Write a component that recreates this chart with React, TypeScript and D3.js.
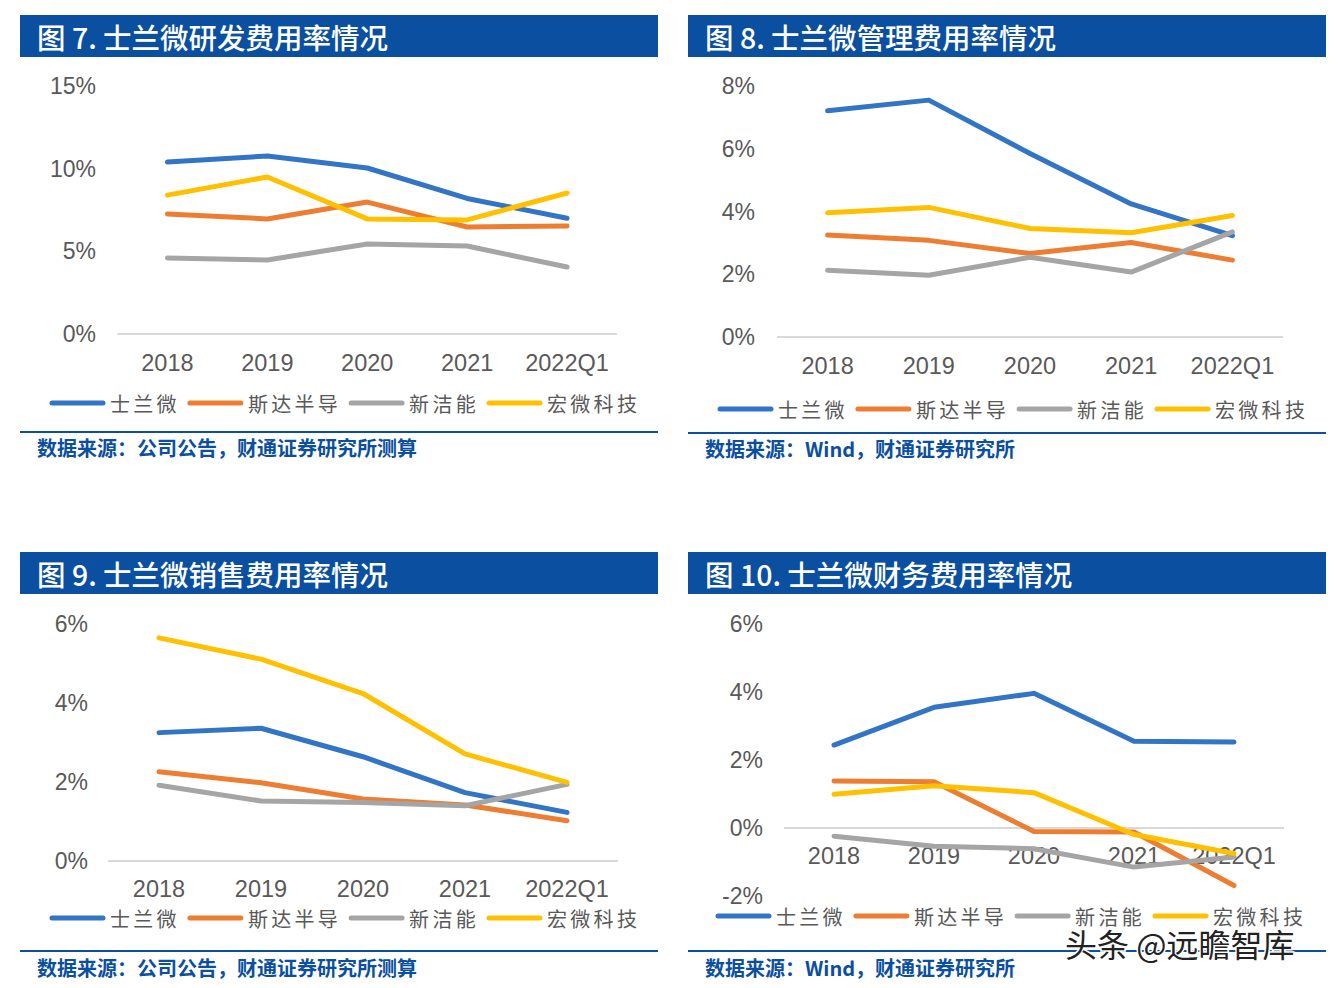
import React, { useEffect, useRef } from 'react';
import * as d3 from 'd3';

const categories = ['2018', '2019', '2020', '2021', '2022Q1'];
const companies = ['士兰微', '斯达半导', '新洁能', '宏微科技'];
const colors = ['#3274c6', '#ed7d31', '#a5a5a5', '#ffc000'];

// values in %, order follows companies
const rdRate = [
  [10.4, 10.77, 10.04, 8.2, 7.0],
  [7.26, 6.96, 7.98, 6.47, 6.53],
  [4.6, 4.48, 5.44, 5.32, 4.05],
  [8.4, 9.5, 6.96, 6.9, 8.53],
];
const adminRate = [
  [7.21, 7.55, 5.85, 4.24, 3.23],
  [3.25, 3.08, 2.66, 3.01, 2.45],
  [2.13, 1.97, 2.54, 2.07, 3.35],
  [3.96, 4.13, 3.46, 3.32, 3.87],
];
const salesRate = [
  [3.25, 3.36, 2.64, 1.73, 1.23],
  [2.26, 1.98, 1.57, 1.42, 1.02],
  [1.92, 1.52, 1.48, 1.4, 1.94],
  [5.65, 5.11, 4.24, 2.71, 1.99],
];
const financeRate = [
  [2.44, 3.55, 3.96, 2.55, 2.53],
  [1.38, 1.36, -0.1, -0.12, -1.69],
  [-0.24, -0.54, -0.61, -1.15, -0.85],
  [0.99, 1.24, 1.04, -0.19, -0.75],
];

const rdTicks = [0, 5, 10, 15];
const adminTicks = [0, 2, 4, 6, 8];
const salesTicks = [0, 2, 4, 6];
const financeTicks = [-2, 0, 2, 4, 6];

const titles = [
  '图 7. 士兰微研发费用率情况',
  '图 8. 士兰微管理费用率情况',
  '图 9. 士兰微销售费用率情况',
  '图 10. 士兰微财务费用率情况',
];
const sources = [
  '数据来源：公司公告，财通证券研究所测算',
  '数据来源：Wind，财通证券研究所',
  '数据来源：公司公告，财通证券研究所测算',
  '数据来源：Wind，财通证券研究所',
];

const navy = '#0b4fa0';
const cjk = '"Noto Sans CJK SC", "Noto Sans", sans-serif';
const latin = '"Liberation Sans", Arial, sans-serif';

type Panel = {
  x0: number;
  top: number;
  data: number[][];
  ticks: number[];
  xRange: [number, number];
  yRange: [number, number];
  labelRight: number;
  xLabelY: number;
  legendX: number;
  legendY: number;
  sepY: number;
  sourceY: number;
};

const panels: Panel[] = [
  { x0: 20, top: 15, data: rdRate, ticks: rdTicks, xRange: [117.5, 617], yRange: [334, 86], labelRight: 96, xLabelY: 363, legendX: 50, legendY: 403, sepY: 432, sourceY: 447 },
  { x0: 688, top: 15, data: adminRate, ticks: adminTicks, xRange: [777, 1283], yRange: [337, 86], labelRight: 755, xLabelY: 366, legendX: 718, legendY: 409, sepY: 433, sourceY: 448 },
  { x0: 20, top: 552, data: salesRate, ticks: salesTicks, xRange: [108, 618], yRange: [861, 624], labelRight: 88, xLabelY: 889, legendX: 50, legendY: 918, sepY: 951, sourceY: 967 },
  { x0: 688, top: 552, data: financeRate, ticks: financeTicks, xRange: [784, 1284], yRange: [896, 624], labelRight: 763, xLabelY: 856, legendX: 716, legendY: 916, sepY: 951, sourceY: 967 },
];

const panelWidth = 638;

function App() {
  const ref = useRef<SVGSVGElement>(null);

  useEffect(() => {
    if (!ref.current) return;
    const svg = d3.select(ref.current);
    svg.selectAll('*').remove();

    panels.forEach((p, i) => {
      const g = svg.append('g');

      // title bar
      g.append('rect')
        .attr('x', p.x0).attr('y', p.top)
        .attr('width', panelWidth).attr('height', 42)
        .attr('fill', navy);
      g.append('text')
        .attr('x', p.x0 + 17).attr('y', p.top + 21)
        .attr('dominant-baseline', 'central')
        .attr('fill', '#fff')
        .style('font-family', cjk)
        .style('font-size', '28.5px')
        .style('font-weight', 500)
        .text(titles[i]);

      const x = d3.scaleBand().domain(categories).range(p.xRange);
      const cx = (c: string) => (x(c) ?? 0) + x.bandwidth() / 2;
      const yMin = d3.min(p.ticks)!;
      const yMax = d3.max(p.ticks)!;
      const y = d3.scaleLinear().domain([yMin, yMax]).range(p.yRange);

      // y tick labels
      g.selectAll('.ytick')
        .data(p.ticks)
        .enter()
        .append('text')
        .attr('x', p.labelRight)
        .attr('y', (d: number) => y(d))
        .attr('text-anchor', 'end')
        .attr('dominant-baseline', 'central')
        .attr('fill', '#595959')
        .style('font-family', latin)
        .style('font-size', '23px')
        .text((d: number) => `${d}%`);

      // zero line
      g.append('line')
        .attr('x1', p.xRange[0]).attr('x2', p.xRange[1])
        .attr('y1', y(0)).attr('y2', y(0))
        .style('stroke', '#d9d9d9')
        .style('stroke-width', 2);

      // category labels
      g.selectAll('.xtick')
        .data(categories)
        .enter()
        .append('text')
        .attr('x', (d: string) => cx(d))
        .attr('y', p.xLabelY)
        .attr('text-anchor', 'middle')
        .attr('dominant-baseline', 'central')
        .attr('fill', '#595959')
        .style('font-family', latin)
        .style('font-size', '23.5px')
        .text((d: string) => d);

      const line = d3.line<number>()
        .x((_, j) => cx(categories[j]))
        .y((d) => y(d));

      p.data.forEach((series, s) => {
        g.append('path')
          .attr('d', line(series))
          .attr('fill', 'none')
          .style('stroke', colors[s])
          .style('stroke-width', 5)
          .style('stroke-linejoin', 'round')
          .style('stroke-linecap', 'round');
      });

      // legend
      let lx = p.legendX;
      companies.forEach((name, s) => {
        g.append('line')
          .attr('x1', lx + 2).attr('x2', lx + 53)
          .attr('y1', p.legendY).attr('y2', p.legendY)
          .style('stroke', colors[s])
          .style('stroke-width', 5)
          .style('stroke-linecap', 'round');
        g.append('text')
          .attr('x', lx + 60)
          .attr('y', p.legendY)
          .attr('dominant-baseline', 'central')
          .attr('fill', '#595959')
          .style('font-family', cjk)
          .style('font-size', '20px')
          .style('letter-spacing', '3.3px')
          .text(name);
        lx += 55 + 5 + name.length * 23.3 + 8;
      });

      // separator + source
      g.append('line')
        .attr('x1', p.x0).attr('x2', p.x0 + panelWidth)
        .attr('y1', p.sepY).attr('y2', p.sepY)
        .style('stroke', navy)
        .style('stroke-width', 2);
      g.append('text')
        .attr('x', p.x0 + 17)
        .attr('y', p.sourceY)
        .attr('dominant-baseline', 'central')
        .attr('fill', navy)
        .style('font-family', cjk)
        .style('font-size', '20px')
        .style('font-weight', 700)
        .text(sources[i]);
    });

    // watermark
    svg.append('text')
      .attr('x', 1065).attr('y', 943)
      .attr('dominant-baseline', 'central')
      .attr('fill', '#222')
      .style('stroke', '#fff')
      .style('stroke-width', 3)
      .style('paint-order', 'stroke')
      .style('font-family', cjk)
      .style('font-size', '32px')
      .text('头条 @远瞻智库');
  }, []);

  return (
    <div>
      <svg ref={ref} width={1339} height={988}
        style={{ position: 'absolute', left: 0, top: 0, background: '#fff' }}></svg>
    </div>
  );
}

export default App;
